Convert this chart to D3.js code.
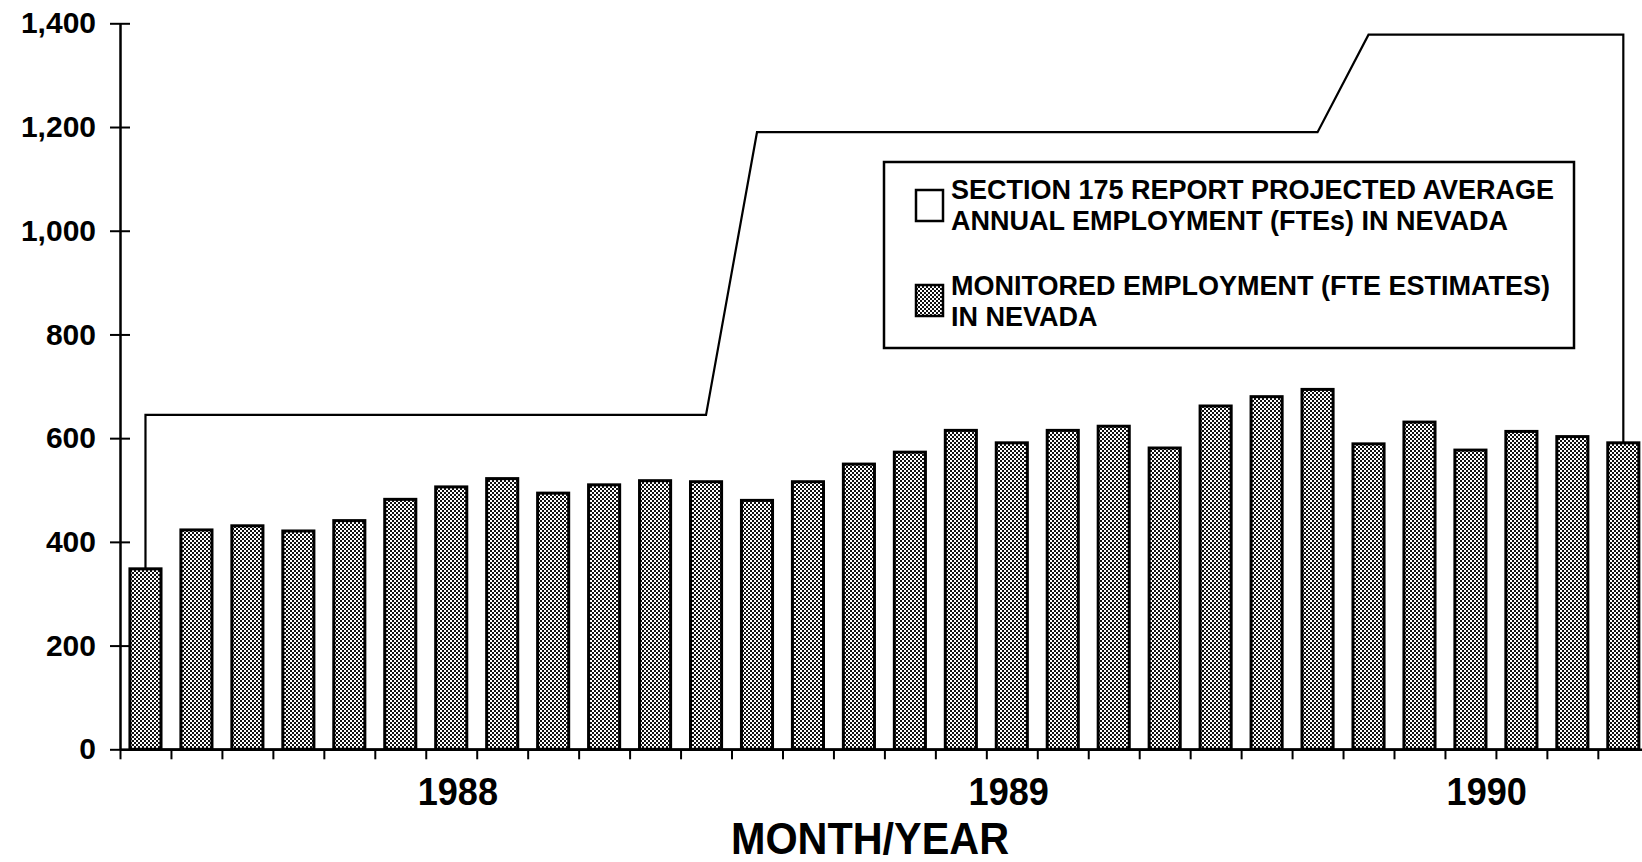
<!DOCTYPE html>
<html>
<head>
<meta charset="utf-8">
<script src="https://cdn.jsdelivr.net/npm/d3@7"></script>
<style>
  body { margin: 0; background: #fff; overflow: hidden; }
  svg { display: block; }
  text { font-family: "Liberation Sans", Arial, Helvetica, sans-serif; font-weight: bold; fill: #000; }
</style>
</head>
<body>
<div id="chart"></div>
<script>
// monitored employment (FTE estimates), one value per period
var monitored = [348, 423, 431, 421, 441, 482, 506, 522, 494, 510,
                 518, 516, 480, 516, 550, 573, 615, 591, 615, 623,
                 581, 662, 680, 694, 589, 631, 577, 613, 603, 591];

// section 175 report projected average annual employment
var projected = [645, 645, 645, 645, 645, 645, 645, 645, 645, 645,
                 645, 645, 1190, 1190, 1190, 1190, 1190, 1190, 1190, 1190,
                 1190, 1190, 1190, 1190, 1378, 1378, 1378, 1378, 1378, 1378];

var periods = monitored.map(function(d, i) { return "P" + (i + 1) });

var yTicks = [0, 200, 400, 600, 800, 1000, 1200, 1400];

var yearLabels = ["1988", "1989", "1990"];
// where each year label sits, counted in periods from the axis
var yearAt = [6.63, 17.44, 26.82];

var legendLabels = [
  ["SECTION 175 REPORT PROJECTED AVERAGE", "ANNUAL EMPLOYMENT (FTEs) IN NEVADA"],
  ["MONITORED EMPLOYMENT (FTE ESTIMATES)", "IN NEVADA"]
];

(function() {
  var width = 1642, height = 862;
  var left = 120, right = 120 + 30 * 50.96, top = 23.3, bottom = 749.3;

  var svg = d3.select("#chart")
    .append("svg")
    .attr("width", width)
    .attr("height", height);

  // narrow the glyphs a little, the print uses a condensed face
  function squeeze(sel, k) {
    sel.each(function() {
      var w = this.getComputedTextLength();
      d3.select(this).attr("textLength", w * k).attr("lengthAdjust", "spacingAndGlyphs");
    });
  }

  // halftone fill like the printed bars
  var pat = svg.append("defs").append("pattern")
    .attr("id", "halftone")
    .attr("width", 4)
    .attr("height", 4)
    .attr("patternUnits", "userSpaceOnUse");
  pat.append("rect").attr("width", 4).attr("height", 4).attr("fill", "#fff");
  pat.append("rect").attr("width", 2).attr("height", 2).attr("fill", "#111");
  pat.append("rect").attr("x", 2).attr("y", 2).attr("width", 2).attr("height", 2).attr("fill", "#111");

  var xScale = d3.scaleBand().domain(periods).range([left, right])
    .paddingInner(0.39).paddingOuter(0.195);
  var xIdx = d3.scaleLinear().domain([0, periods.length]).range([left, right]);
  var yScale = d3.scaleLinear().domain([0, 1400]).range([bottom, top]);

  function center(i) { return xScale(periods[i]) + xScale.bandwidth() / 2 }

  // projected employment drawn as an outlined white area behind the bars
  var area = d3.area()
    .x(function(d, i) { return center(i) })
    .y0(yScale(0))
    .y1(function(d) { return yScale(d) });

  svg.append("path")
    .datum(projected)
    .attr("d", area)
    .attr("fill", "#fff")
    .attr("stroke", "#000")
    .attr("stroke-width", 2.2);

  svg.selectAll("rect.bar")
    .data(monitored)
    .enter().append("rect")
    .attr("class", "bar")
    .attr("x", function(d, i) { return xScale(periods[i]) })
    .attr("width", xScale.bandwidth())
    .attr("y", function(d) { return yScale(d) })
    .attr("height", function(d) { return yScale(0) - yScale(d) })
    .attr("fill", "url(#halftone)")
    .attr("stroke", "#000")
    .attr("stroke-width", 3);

  // y axis, ticks cross the line
  var yAxis = d3.axisLeft(yScale)
    .tickValues(yTicks)
    .tickFormat(d3.format(","))
    .tickSize(10)
    .tickSizeOuter(0)
    .tickPadding(14);

  var gy = svg.append("g")
    .attr("transform", "translate(" + left + ",0)")
    .call(yAxis);
  gy.select(".domain").attr("stroke-width", 2.5);
  gy.selectAll(".tick line").attr("x1", 10).attr("stroke-width", 2);
  gy.selectAll(".tick text")
    .style("font-size", "30px")
    .style("font-family", "Liberation Sans, Arial, sans-serif")
    .style("font-weight", "bold");

  // x axis, ticks between the bars
  var xAxis = d3.axisBottom(xIdx)
    .tickValues(d3.range(0, periods.length))
    .tickFormat("")
    .tickSize(10)
    .tickSizeOuter(0);

  var gx = svg.append("g")
    .attr("transform", "translate(0," + bottom + ")")
    .call(xAxis);
  gx.select(".domain").attr("stroke-width", 2.5);
  gx.selectAll(".tick line").attr("stroke-width", 2);

  svg.selectAll("text.year")
    .data(yearLabels)
    .enter().append("text")
    .attr("class", "year")
    .attr("x", function(d, i) { return xIdx(yearAt[i]) })
    .attr("y", 805)
    .attr("text-anchor", "middle")
    .style("font-size", "38px")
    .text(function(d) { return d })
    .call(squeeze, 0.95);

  svg.append("text")
    .attr("x", 870)
    .attr("y", 854)
    .attr("text-anchor", "middle")
    .style("font-size", "44px")
    .text("MONTH/YEAR")
    .call(squeeze, 0.94);

  // legend
  var lg = svg.append("g");
  lg.append("rect")
    .attr("x", 884).attr("y", 162)
    .attr("width", 690).attr("height", 186)
    .attr("fill", "#fff")
    .attr("stroke", "#000")
    .attr("stroke-width", 2.5);

  lg.append("rect")
    .attr("x", 916).attr("y", 190)
    .attr("width", 27).attr("height", 31)
    .attr("fill", "#fff")
    .attr("stroke", "#000")
    .attr("stroke-width", 2.5);

  lg.append("rect")
    .attr("x", 916).attr("y", 285)
    .attr("width", 27).attr("height", 31)
    .attr("fill", "url(#halftone)")
    .attr("stroke", "#000")
    .attr("stroke-width", 2.5);

  var baselines = [[199, 230], [295, 326]];
  legendLabels.forEach(function(lines, k) {
    lines.forEach(function(t, j) {
      lg.append("text")
        .attr("x", 951)
        .attr("y", baselines[k][j])
        .style("font-size", "27px")
        .text(t);
    });
  });
})();
</script>
</body>
</html>
